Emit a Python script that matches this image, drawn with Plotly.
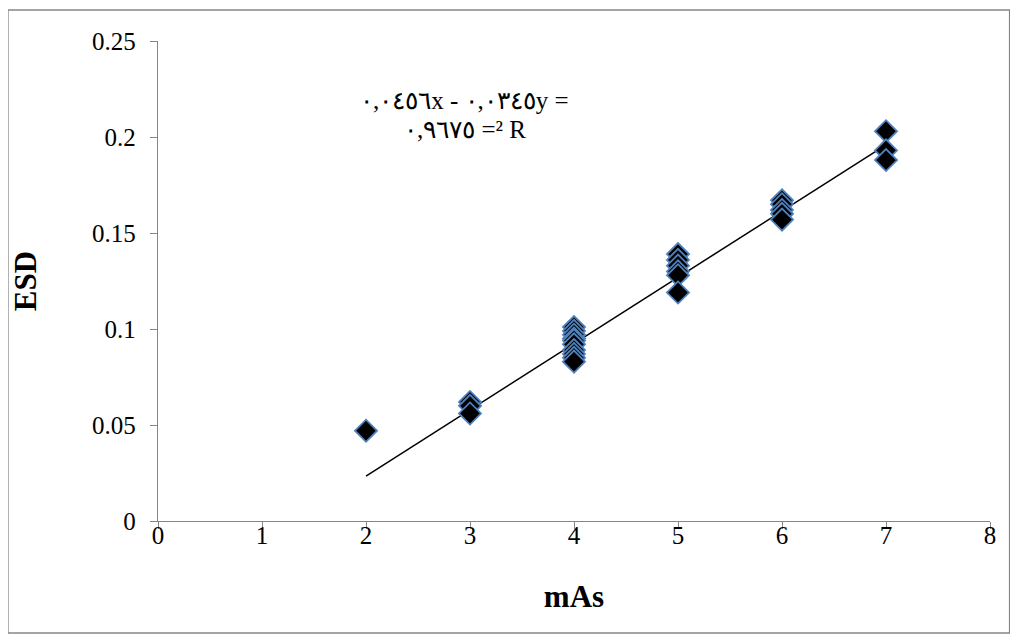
import plotly.graph_objects as go

# Data
x_vals = [2,
          3, 3, 3,
          4, 4, 4, 4, 4, 4, 4, 4, 4, 4,
          5, 5, 5, 5, 5, 5,
          6, 6, 6, 6, 6,
          7, 7, 7]
esd_vals = [0.047,
            0.062, 0.060, 0.056,
            0.101, 0.099, 0.097, 0.095, 0.094, 0.092, 0.089, 0.087, 0.085, 0.083,
            0.139, 0.136, 0.133, 0.130, 0.128, 0.119,
            0.167, 0.165, 0.162, 0.160, 0.157,
            0.203, 0.193, 0.188]
slope = 0.0345
intercept = -0.0456
trend_x = [2, 7]
x_ticks = [0, 1, 2, 3, 4, 5, 6, 7, 8]
y_ticks = [0, 0.05, 0.1, 0.15, 0.2, 0.25]
y_tick_text = ["0", "0.05", "0.1", "0.15", "0.2", "0.25"]
eq_line1 = "٠,٠٤٥٦x - ٠,٠٣٤٥y ="
eq_line2 = "٠,٩٦٧٥ =² R"

trend_y = [slope * v + intercept for v in trend_x]

fig = go.Figure()
fig.add_trace(go.Scatter(
    x=trend_x, y=trend_y, mode="lines",
    line=dict(color="black", width=1.5), showlegend=False))
fig.add_trace(go.Scatter(
    x=x_vals, y=esd_vals, mode="markers",
    marker=dict(symbol="diamond", size=17, color="black",
                line=dict(color="#4F81BD", width=1.8)),
    showlegend=False))

serif = "'Liberation Serif', 'Times New Roman', serif"
axis_common = dict(showgrid=False, zeroline=False, showline=True,
                   linecolor="#868686", linewidth=1.3,
                   ticks="outside", ticklen=7, tickcolor="#868686",
                   tickfont=dict(family=serif, size=25, color="black"))

fig.update_layout(
    width=1018, height=641,
    margin=dict(l=150, r=36, t=33, b=128),
    plot_bgcolor="white", paper_bgcolor="white",
    xaxis=dict(range=[0, 8], tickvals=x_ticks, ticktext=[str(t) for t in x_ticks],
               ticklabelstandoff=-15,
               title=dict(text="<b>mAs</b>", font=dict(family=serif, size=31, color="black"),
                          standoff=37),
               **axis_common),
    yaxis=dict(range=[0, 0.25], tickvals=y_ticks, ticktext=y_tick_text,
               ticklabelstandoff=9,
               title=dict(text="<b>ESD</b>", font=dict(family=serif, size=31, color="black"),
                          standoff=46),
               **axis_common),
    shapes=[dict(type="rect", xref="paper", yref="paper",
                 x0=-0.1803, x1=1.0235, y0=-0.2333, y1=1.0646,
                 line=dict(color="#868686", width=1.3), fillcolor="rgba(0,0,0,0)")],
    annotations=[
        dict(x=2.95, y=0.219, xref="x", yref="y", text=eq_line1, showarrow=False,
             font=dict(family=serif, size=25, color="black"), xanchor="center"),
        dict(x=2.95, y=0.204, xref="x", yref="y", text=eq_line2, showarrow=False,
             font=dict(family=serif, size=25, color="black"), xanchor="center"),
    ],
)

fig.write_html("out.html")
